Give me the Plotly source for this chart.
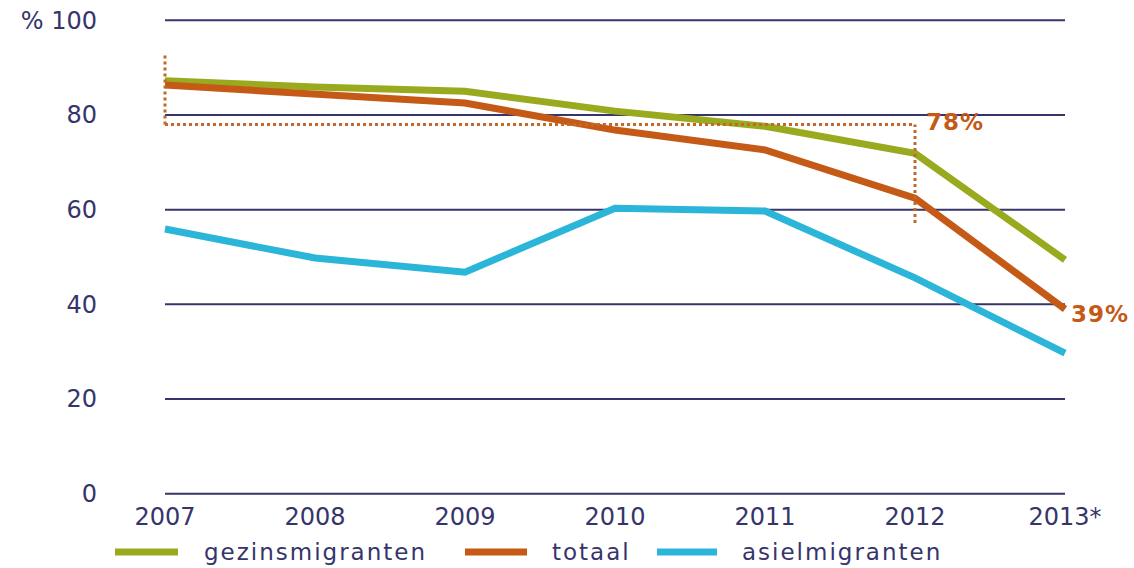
import plotly.graph_objects as go

# Jaren en percentages per groep
years = ["2007", "2008", "2009", "2010", "2011", "2012", "2013*"]
gezinsmigranten = [87.2, 85.9, 85.0, 80.8, 77.6, 71.9, 49.4]
totaal = [86.3, 84.5, 82.5, 76.8, 72.6, 62.4, 39]
asielmigranten = [55.9, 49.8, 46.8, 60.3, 59.7, 45.6, 29.7]
y_ticks = [0, 20, 40, 60, 80, 100]
y_ticktext = ["0", "20", "40", "60", "80", "% 100"]

# Referentiewaarde 2007-2012 met bijbehorende markering
ref_value = 78
ref_top = 92.6
ref_bottom = 57.2

names = ["gezinsmigranten", "totaal", "asielmigranten"]
colors = ["#9aaa1f", "#c55a17", "#2bb5d8"]
series = [gezinsmigranten, totaal, asielmigranten]

NAVY = "#35356b"
FONT = "DejaVu Sans"

W, H = 1134, 568
M_L, M_R, M_T, M_B = 150, 54, 6, 60
Y_RANGE = [-3, 103]
plot_h = H - M_T - M_B
plot_w = W - M_L - M_R


def spaced(text, px):
    return f'<span style="letter-spacing:{px}px">{text}</span>'


x = list(range(len(years)))
fig = go.Figure()

# Rasterlijnen
shapes = []
for v in y_ticks:
    shapes.append(dict(type="line", xref="x", yref="y", x0=0, x1=len(years) - 1,
                       y0=v, y1=v, line=dict(color=NAVY, width=2), layer="below"))

# Gestippelde haak rond de referentiewaarde
dot = dict(color="#c06a2a", width=3, dash="dot")
shapes.append(dict(type="line", xref="x", yref="y", x0=0, x1=0, y0=ref_value, y1=ref_top, line=dot))
shapes.append(dict(type="line", xref="x", yref="y", x0=0, x1=5, y0=ref_value, y1=ref_value, line=dot))
shapes.append(dict(type="line", xref="x", yref="y", x0=5, x1=5, y0=ref_bottom, y1=ref_value, line=dot))

for name, col, vals in zip(names, colors, series):
    fig.add_trace(go.Scatter(x=x, y=vals, mode="lines", name=name,
                             line=dict(color=col, width=7), showlegend=False))

annotations = [
    dict(x=5, y=ref_value, xref="x", yref="y", text=spaced(f"{ref_value}%", 1), showarrow=False,
         xanchor="left", yanchor="middle", xshift=9, yshift=2,
         font=dict(family=FONT, size=23, color="#c55a17", weight="bold")),
    dict(x=6, y=totaal[-1], xref="x", yref="y", text=spaced(f"{totaal[-1]:g}%", 1), showarrow=False,
         xanchor="left", yanchor="middle", xshift=4, yshift=-5,
         font=dict(family=FONT, size=23, color="#c55a17", weight="bold")),
]

# Legenda onder de grafiek (posities in pixels)
leg_y = (H - M_B - 552) / plot_h
legend_pos = [(115, 178, 202), (465, 527, 550), (657, 717, 740)]
for (p0, p1, pt), name, col in zip(legend_pos, names, colors):
    shapes.append(dict(type="line", xref="paper", yref="paper",
                       x0=(p0 - M_L) / plot_w, x1=(p1 - M_L) / plot_w,
                       y0=leg_y, y1=leg_y, line=dict(color=col, width=7)))
    annotations.append(dict(x=(pt - M_L) / plot_w, y=leg_y, xref="paper", yref="paper",
                            text=spaced(name, 2), showarrow=False,
                            xanchor="left", yanchor="middle",
                            font=dict(family=FONT, size=23, color=NAVY)))

fig.update_layout(
    width=W, height=H,
    margin=dict(l=M_L, r=M_R, t=M_T, b=M_B),
    paper_bgcolor="white", plot_bgcolor="white",
    shapes=shapes, annotations=annotations,
    xaxis=dict(range=[-0.1, len(years) - 0.9], tickmode="array", tickvals=x, ticktext=years,
               showgrid=False, zeroline=False, showline=False, ticks="",
               tickfont=dict(family=FONT, size=24, color=NAVY), ticklabelstandoff=-8),
    yaxis=dict(range=Y_RANGE, tickmode="array", tickvals=y_ticks, ticktext=y_ticktext,
               showgrid=False, zeroline=False, showline=False, ticks="",
               tickfont=dict(family=FONT, size=24, color=NAVY), ticklabelstandoff=52),
    showlegend=False,
)

fig.write_html("out.html")
